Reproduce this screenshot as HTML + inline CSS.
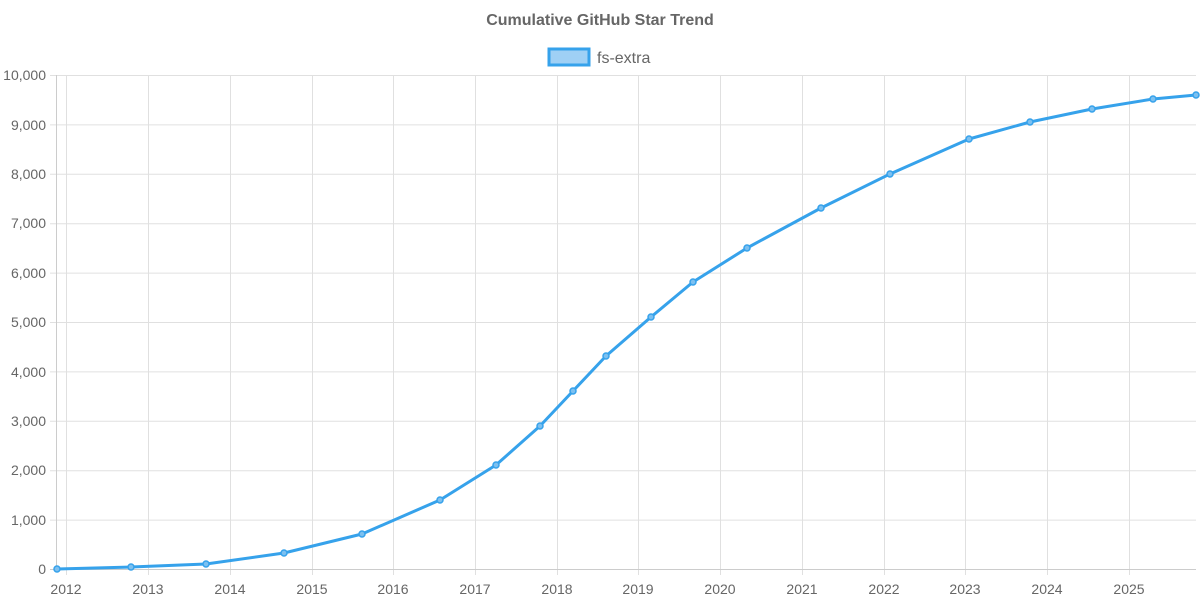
<!DOCTYPE html>
<html><head><meta charset="utf-8"><style>body{margin:0;background:#fff}svg{display:block}</style></head>
<body>
<svg width="1200" height="600" xmlns="http://www.w3.org/2000/svg" font-family="Liberation Sans, sans-serif">
<text x="600" y="25" text-anchor="middle" font-size="16" font-weight="bold" fill="#666">Cumulative GitHub Star Trend</text>
<rect x="549" y="49" width="40" height="16" fill="#9fd0f5" stroke="#36a2eb" stroke-width="3"/>
<text x="597" y="63" font-size="16" fill="#666">fs-extra</text>
<g stroke="#e0e0e0" stroke-width="1">
<line x1="50" y1="75.5" x2="1196" y2="75.5"/><line x1="50" y1="124.9" x2="1196" y2="124.9"/>
<line x1="50" y1="174.3" x2="1196" y2="174.3"/><line x1="50" y1="223.7" x2="1196" y2="223.7"/>
<line x1="50" y1="273.1" x2="1196" y2="273.1"/><line x1="50" y1="322.5" x2="1196" y2="322.5"/>
<line x1="50" y1="371.9" x2="1196" y2="371.9"/><line x1="50" y1="421.3" x2="1196" y2="421.3"/>
<line x1="50" y1="470.7" x2="1196" y2="470.7"/><line x1="50" y1="520.1" x2="1196" y2="520.1"/>
<line x1="66.5" y1="75" x2="66.5" y2="575"/><line x1="148.5" y1="75" x2="148.5" y2="575"/>
<line x1="230.5" y1="75" x2="230.5" y2="575"/><line x1="312.5" y1="75" x2="312.5" y2="575"/>
<line x1="393.5" y1="75" x2="393.5" y2="575"/><line x1="475.5" y1="75" x2="475.5" y2="575"/>
<line x1="557.5" y1="75" x2="557.5" y2="575"/><line x1="638.5" y1="75" x2="638.5" y2="575"/>
<line x1="720.5" y1="75" x2="720.5" y2="575"/><line x1="802.5" y1="75" x2="802.5" y2="575"/>
<line x1="884.5" y1="75" x2="884.5" y2="575"/><line x1="965.5" y1="75" x2="965.5" y2="575"/>
<line x1="1047.5" y1="75" x2="1047.5" y2="575"/><line x1="1129.5" y1="75" x2="1129.5" y2="575"/>
</g>
<line x1="50" y1="569.5" x2="1196" y2="569.5" stroke="#ccc"/>
<line x1="56.5" y1="75" x2="56.5" y2="569" stroke="#ccc"/>
<g font-size="14" fill="#666" text-anchor="end">
<text x="46" y="80">10,000</text><text x="46" y="130">9,000</text><text x="46" y="179">8,000</text>
<text x="46" y="228">7,000</text><text x="46" y="278">6,000</text><text x="46" y="327">5,000</text>
<text x="46" y="377">4,000</text><text x="46" y="426">3,000</text><text x="46" y="475">2,000</text>
<text x="46" y="525">1,000</text><text x="46" y="574">0</text>
</g>
<g font-size="14" fill="#666" text-anchor="middle">
<text x="66" y="594">2012</text><text x="148" y="594">2013</text><text x="230" y="594">2014</text>
<text x="312" y="594">2015</text><text x="393" y="594">2016</text><text x="475" y="594">2017</text>
<text x="557" y="594">2018</text><text x="638" y="594">2019</text><text x="720" y="594">2020</text>
<text x="802" y="594">2021</text><text x="884" y="594">2022</text><text x="965" y="594">2023</text>
<text x="1047" y="594">2024</text><text x="1129" y="594">2025</text>
</g>
<polyline fill="none" stroke="#36a2eb" stroke-width="3" stroke-linejoin="round" points="57,569 131,567 206,564 284,553 362,534 440,500 496,465 540,426 573,391 606,356 651,317 693,282 747,248 821,208 890,174 969,139 1030,122 1092,109 1153,99 1196,95"/>
<g fill="#7cc0f0" stroke="#36a2eb" stroke-width="1.5">
<circle cx="57" cy="569" r="3"/><circle cx="131" cy="567" r="3"/><circle cx="206" cy="564" r="3"/>
<circle cx="284" cy="553" r="3"/><circle cx="362" cy="534" r="3"/><circle cx="440" cy="500" r="3"/>
<circle cx="496" cy="465" r="3"/><circle cx="540" cy="426" r="3"/><circle cx="573" cy="391" r="3"/>
<circle cx="606" cy="356" r="3"/><circle cx="651" cy="317" r="3"/><circle cx="693" cy="282" r="3"/>
<circle cx="747" cy="248" r="3"/><circle cx="821" cy="208" r="3"/><circle cx="890" cy="174" r="3"/>
<circle cx="969" cy="139" r="3"/><circle cx="1030" cy="122" r="3"/><circle cx="1092" cy="109" r="3"/>
<circle cx="1153" cy="99" r="3"/><circle cx="1196" cy="95" r="3"/>
</g>
</svg>
</body></html>
